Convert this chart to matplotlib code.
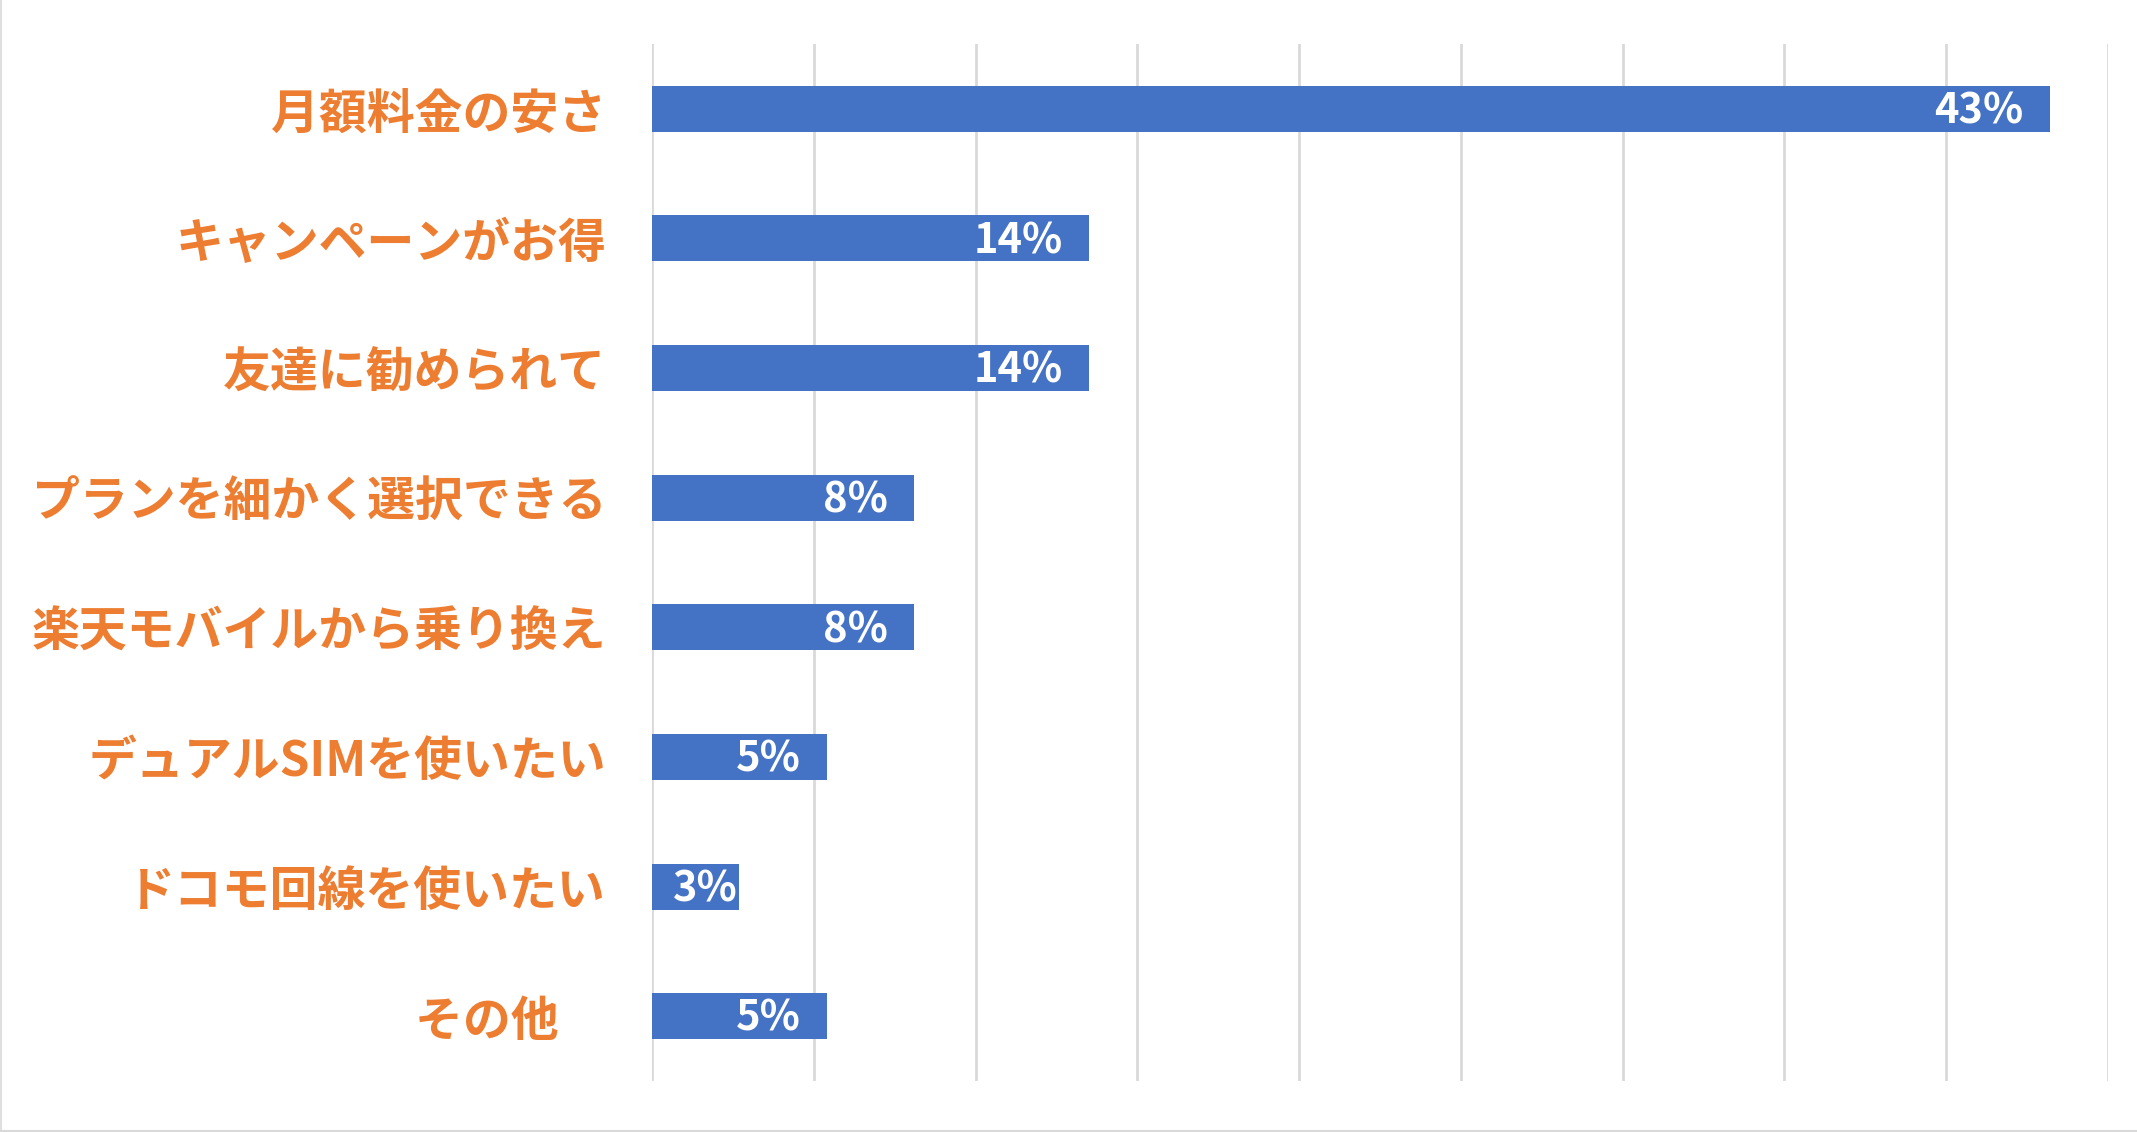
import matplotlib.pyplot as plt
from matplotlib.lines import Line2D

plt.rcParams['font.family'] = ['Noto Sans CJK JP', 'DejaVu Sans']

# -------------------------------
# Data
# -------------------------------
categories = [
    "月額料金の安さ",
    "キャンペーンがお得",
    "友達に勧められて",
    "プランを細かく選択できる",
    "楽天モバイルから乗り換え",
    "デュアルSIMを使いたい",
    "ドコモ回線を使いたい",
    "その他\u3000",
]
values = [43.2, 13.5, 13.5, 8.1, 8.1, 5.4, 2.7, 5.4]
value_labels = ["43%", "14%", "14%", "8%", "8%", "5%", "3%", "5%"]
x_ticks = [0, 5, 10, 15, 20, 25, 30, 35, 40, 45]

BAR_COLOR = "#4472C4"
LABEL_COLOR = "#ED7D31"
GRID_COLOR = "#D9D9D9"

W, H = 2137, 1132
fig = plt.figure(figsize=(W / 100, H / 100), dpi=100)
ax = fig.add_axes([652 / W, 51 / H, (2108 - 652) / W, (1081 - 44) / H])

y = list(range(len(categories)))
ax.barh(y, values, height=0.355, color=BAR_COLOR, zorder=3)

ax.set_xlim(0, 45)
ax.set_ylim(len(categories) - 0.5, -0.5)
ax.set_xticks(x_ticks)
ax.set_xticklabels([])
ax.tick_params(axis="x", length=0)
ax.grid(axis="x", color=GRID_COLOR, linewidth=2.0, zorder=0)
for s in ax.spines.values():
    s.set_visible(False)

ax.set_yticks(y)
ax.set_yticklabels(categories, fontsize=34.5, fontweight="bold", color=LABEL_COLOR)
ax.tick_params(axis="y", length=0, pad=33)

# data labels: inside end, pulled in when the bar is too short
fig.canvas.draw()
renderer = fig.canvas.get_renderer()
px2pt = 72 / fig.dpi
for yi, v, lab in zip(y, values, value_labels):
    t = ax.annotate(lab, xy=(v, yi), xytext=(-19, -2), textcoords="offset points",
                    ha="right", va="center", color="white", fontsize=30,
                    fontweight="bold", zorder=4)
    tw = t.get_window_extent(renderer).width
    bar_px = ax.transData.transform((v, 0))[0] - ax.transData.transform((0, 0))[0]
    room = bar_px - tw - 28
    if room < 27:
        t.set_position((-max(room, 2) * px2pt, -2))

# chart area border (left and bottom only)
fig.lines.append(Line2D([0.5 / W, 0.5 / W], [0, 1], transform=fig.transFigure,
                        color=GRID_COLOR, linewidth=1.2))
fig.lines.append(Line2D([0, 1], [1.5 / H, 1.5 / H], transform=fig.transFigure,
                        color=GRID_COLOR, linewidth=2.2))

fig.savefig("out.png", dpi=100)
